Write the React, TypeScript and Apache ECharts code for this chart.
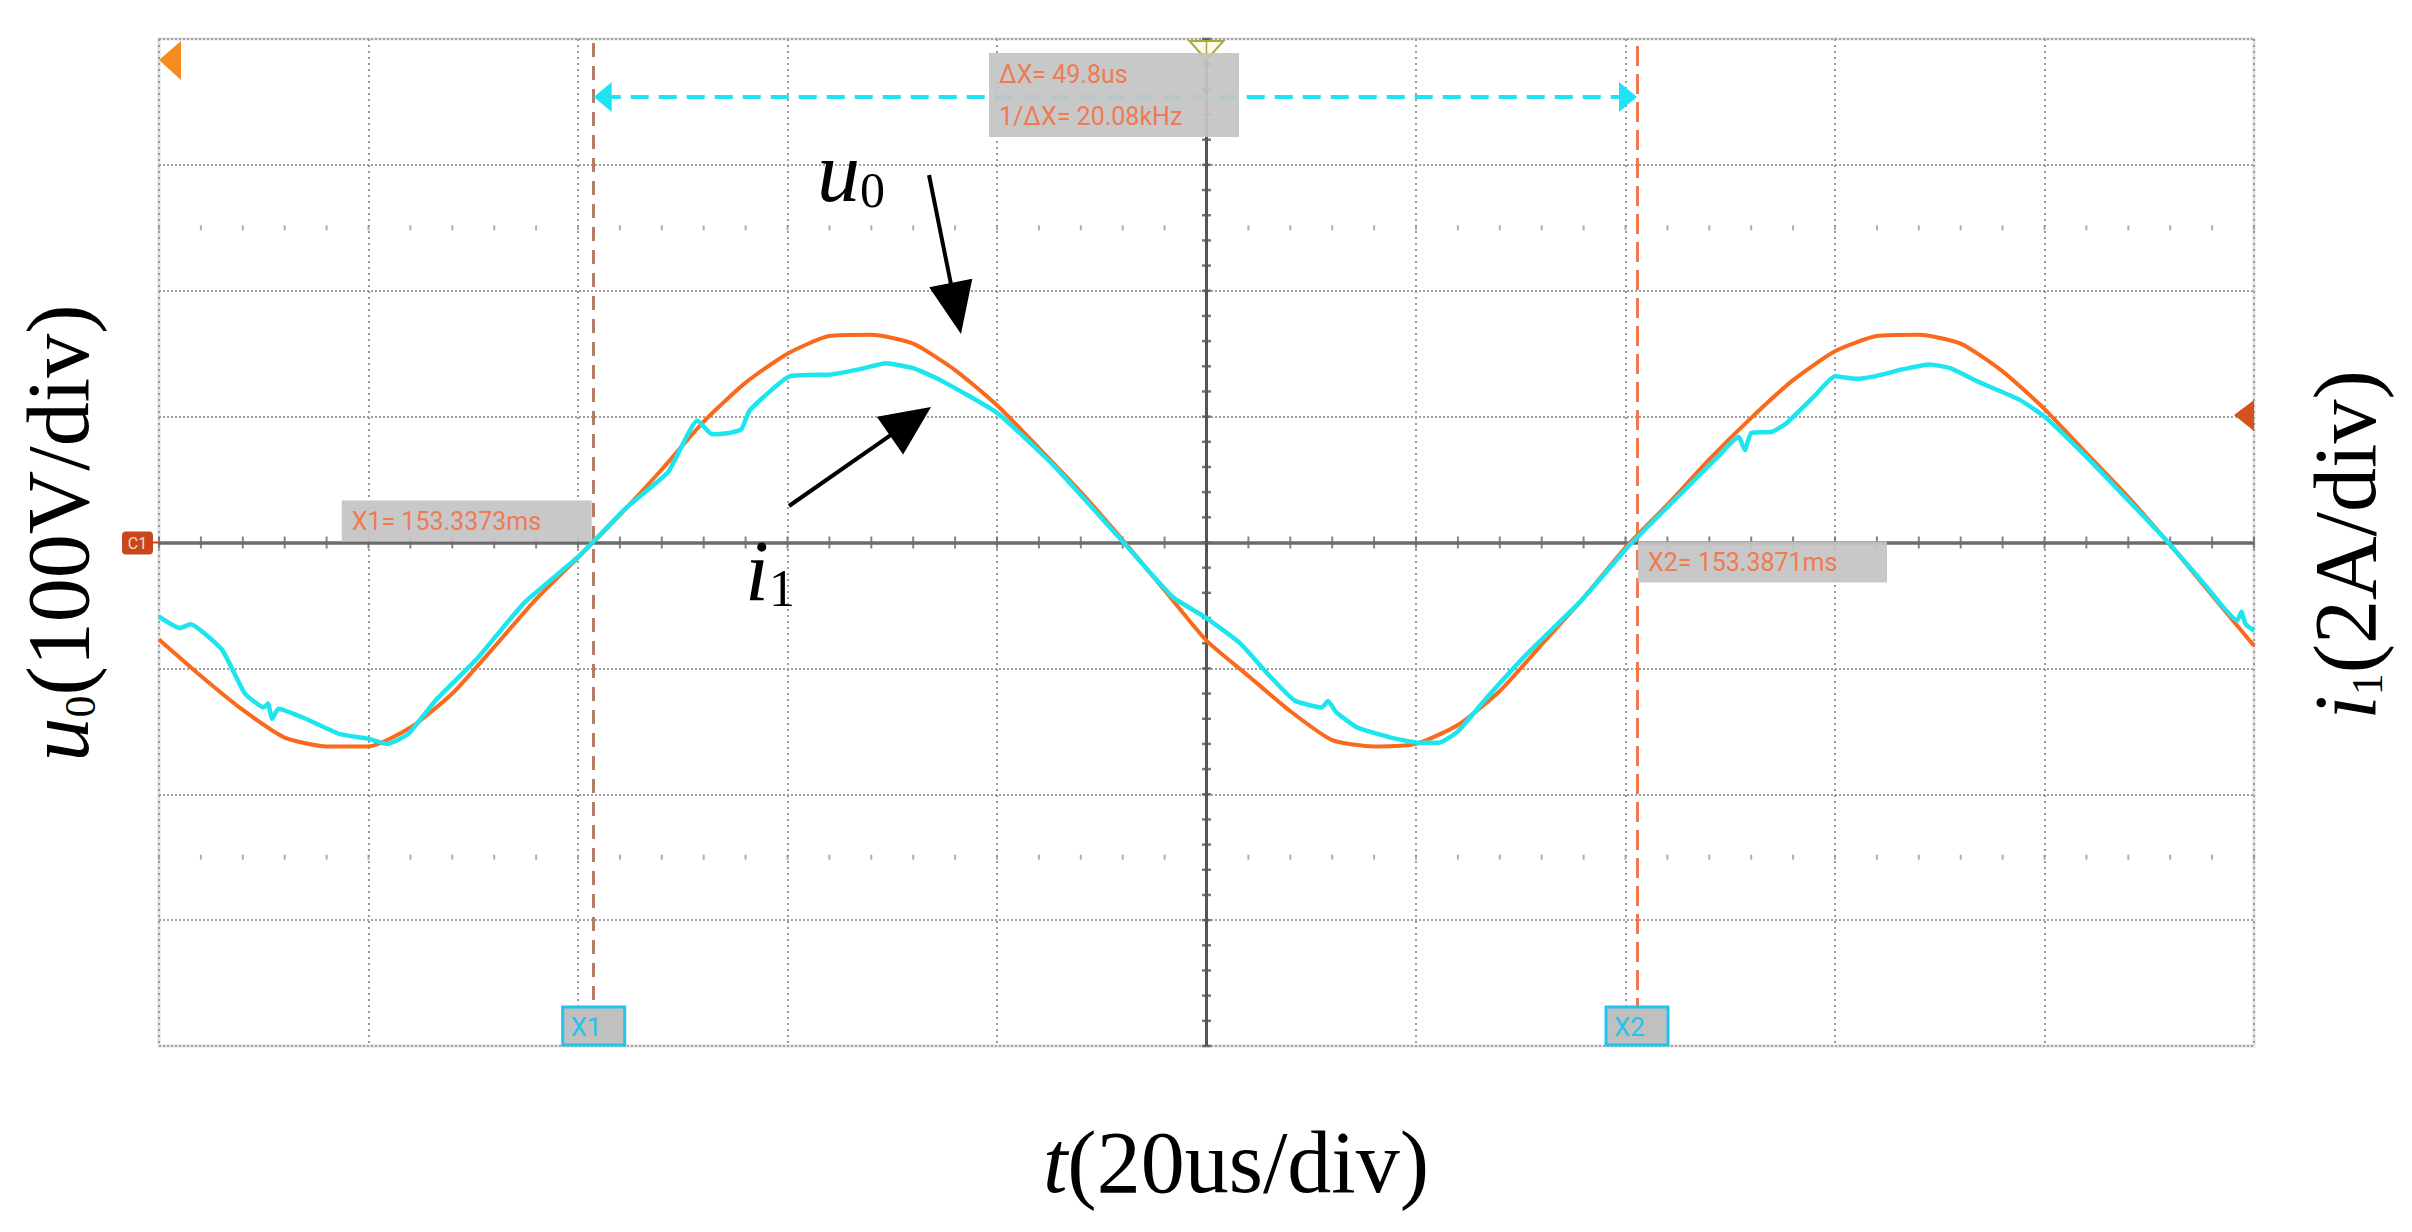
import React, { useEffect, useRef } from "react";
import * as echarts from "echarts";

// ---------------- data (time in µs, 10 µs per division as the cursor readout implies) ----------------
const timeUs = [
  -50, -48, -46, -44, -42, -40, -38, -36, -34, -32, -30, -28, -26, -24, -22, -20, -18, -16, -14, -12, -10,
  -8, -6, -4, -2, 0, 2, 4, 6, 8, 10, 12, 14, 16, 18, 20, 22, 24, 26, 28, 30, 32, 34, 36, 38, 40, 42, 44, 46, 48, 50,
];
// u0, volts (100 V/div)
const u0Volts = [
  -77, -106, -133, -155, -162, -162, -147, -120, -83, -45, -12, 22, 58, 96, 127, 150, 164, 165, 158, 137, 109,
  75, 40, 2, -38, -78, -106, -134, -157, -162, -160, -145, -118, -81, -44, -4, 30, 66, 99, 129, 152, 164, 165, 158,
  136, 106, 71, 36, -2, -42, -82,
];
// i1, amperes (2 A/div), sampled on its own time points to keep the visible ripples
const i1TimeUs = [
  -50, -49, -48.5, -47, -45.9, -45, -44.8, -44.6, -44.3, -43, -41.4, -40, -39.1, -38.1, -36.8, -34.8, -32.6, -30,
  -27.7, -25.7, -24.3, -23.6, -22.8, -22.2, -21.8, -19.9, -17.9, -16.6, -15.3, -14, -12.7, -10, -7.4, -4.2, -1.6,
  0, 1.6, 2.9, 4.2, 5.5, 5.8, 6.2, 7.2, 8.8, 10.1, 11.1, 12, 13.4, 15.3, 17.9, 20.2, 22.5, 24.4, 25.4, 25.7, 26,
  27, 27.7, 29, 30, 31, 31.9, 33.2, 34.5, 35.5, 36.8, 38.8, 40, 42, 44, 45.8, 47.6, 49.2, 49.4, 49.6, 50,
];
const i1Amps = [
  -1.18, -1.36, -1.3, -1.7, -2.4, -2.62, -2.56, -2.8, -2.64, -2.8, -3.04, -3.12, -3.2, -3.04, -2.51, -1.84, -0.97,
  -0.23, 0.55, 1.12, 1.94, 1.72, 1.74, 1.8, 2.1, 2.64, 2.67, 2.75, 2.85, 2.77, 2.58, 2.06, 1.26, 0.09, -0.87,
  -1.2, -1.6, -2.08, -2.51, -2.62, -2.52, -2.7, -2.94, -3.1, -3.18, -3.18, -3.0, -2.46, -1.77, -0.92, -0.04, 0.73,
  1.36, 1.68, 1.47, 1.74, 1.76, 1.9, 2.32, 2.64, 2.6, 2.64, 2.75, 2.83, 2.77, 2.56, 2.27, 2.0, 1.36, 0.67, 0.04,
  -0.65, -1.24, -1.1, -1.3, -1.4,
];

// cursor readouts
const X1_MS = 153.3373;
const X2_MS = 153.3871;
const DELTA_US = 49.8;
const FREQ_KHZ = 20.08;
const cursorX1Us = -29.25;
const cursorX2Us = cursorX1Us + DELTA_US;
const deltaArrowV = 354;

// axes ranges
const T_MIN = -50, T_MAX = 50, T_DIV = 10;
const V_MIN = -400, V_MAX = 400, V_DIV = 100;
const A_MIN = -8, A_MAX = 8, A_DIV = 2;

// ---------------- layout ----------------
const W = 2412, H = 1232;
const G = { left: 159, top: 39, width: 2095, height: 1007 };
const xPx = (t: number) => G.left + ((t - T_MIN) / (T_MAX - T_MIN)) * G.width;
const yPx = (v: number) => G.top + ((V_MAX - v) / (V_MAX - V_MIN)) * G.height;

const SERIF = "Liberation Serif, Times New Roman, serif";
const SANS = "Roboto, Liberation Sans, sans-serif";
const LABEL_ORANGE = "#EE7B52";
const LABEL_GRAY = "#C4C4C4";
const CURSOR_CYAN = "#22C3EF";

function rich(size: number, sub: number) {
  const k = 0.3375;
  const ls = size - 2 * k * (size - sub);
  return {
    it: { fontFamily: SERIF, fontStyle: "italic", fontSize: size, lineHeight: size, verticalAlign: "bottom", fill: "#000" },
    rm: { fontFamily: SERIF, fontSize: size, lineHeight: size, verticalAlign: "bottom", fill: "#000" },
    sub: { fontFamily: SERIF, fontSize: sub, lineHeight: ls, verticalAlign: "bottom", fill: "#000" },
  };
}

function arrow(x1: number, y1: number, x2: number, y2: number, len: number, w: number) {
  const dx = x2 - x1, dy = y2 - y1;
  const L = Math.hypot(dx, dy);
  const ux = dx / L, uy = dy / L;
  const bx = x2 - ux * len, by = y2 - uy * len;
  const px = -uy, py = ux;
  return [
    { type: "line", z: 100, shape: { x1, y1, x2: bx + ux * 3, y2: by + uy * 3 }, style: { stroke: "#000", lineWidth: 4 } },
    {
      type: "polygon",
      z: 100,
      shape: { points: [[x2, y2], [bx + (px * w) / 2, by + (py * w) / 2], [bx - (px * w) / 2, by - (py * w) / 2]] },
      style: { fill: "#000" },
    },
  ];
}

function label(x: number, y: number, w: number, h: number, lines: string[], lineGap: number) {
  const els: any[] = [
    { type: "rect", z: 100, shape: { x, y, width: w, height: h }, style: { fill: LABEL_GRAY, opacity: 0.93 } },
  ];
  const first = y + h / 2 - ((lines.length - 1) * lineGap) / 2;
  lines.forEach((s, i) => {
    els.push({
      type: "text",
      z: 101,
      x: x + 10,
      y: first + i * lineGap,
      style: { text: s, fill: LABEL_ORANGE, fontFamily: SANS, fontSize: 25, align: "left", verticalAlign: "middle", textAlign: "left", textVerticalAlign: "middle" },
    });
  });
  return els;
}

function cursorTag(cx: number, name: string) {
  return [
    { type: "rect", z: 100, shape: { x: cx - 31, y: 1007, width: 62, height: 38 }, style: { fill: "#C0C0C0", stroke: CURSOR_CYAN, lineWidth: 3 } },
    {
      type: "text", z: 101, x: cx - 23, y: 1027,
      style: { text: name, fill: CURSOR_CYAN, fontFamily: SANS, fontSize: 26, align: "left", verticalAlign: "middle", textAlign: "left", textVerticalAlign: "middle" },
    },
  ];
}

function buildOption() {
  const hTicks: number[][] = [];
  for (let t = T_MIN; t <= T_MAX; t += 2) hTicks.push([t, 0]);
  const vTicks: number[][] = [];
  for (let v = V_MIN; v <= V_MAX; v += 20) vTicks.push([0, v]);
  const dotRows: number[][] = [];
  for (let t = T_MIN; t <= T_MAX; t += 2) {
    dotRows.push([t, 2.5 * V_DIV]);
    dotRows.push([t, -2.5 * V_DIV]);
  }

  const halfArrowUs = (9 / G.width) * (T_MAX - T_MIN);
  const x1p = xPx(cursorX1Us);
  const x2p = xPx(cursorX2Us);
  const cx = xPx(0);
  const cy = yPx(0);

  const graphics: any[] = [
    // trigger marker
    { type: "polygon", z: 100, shape: { points: [[cx - 17, 41], [cx + 17, 41], [cx, 60]] }, style: { fill: "#fbfbe8", stroke: "#A9A93C", lineWidth: 2 } },
    { type: "line", z: 100, shape: { x1: cx, y1: 42, x2: cx, y2: 58 }, style: { stroke: "#A9A93C", lineWidth: 1.5 } },
    // channel markers
    { type: "polygon", z: 100, shape: { points: [[G.left, 60], [G.left + 22, 41], [G.left + 22, 80]] }, style: { fill: "#F68B1F" } },
    { type: "polygon", z: 100, shape: { points: [[G.left + G.width - 20, 415], [G.left + G.width, 400], [G.left + G.width, 431]] }, style: { fill: "#D4521C" } },
    { type: "rect", z: 100, shape: { x: 122, y: cy - 11, width: 31, height: 23, r: 4 }, style: { fill: "#C8471B" } },
    { type: "line", z: 100, shape: { x1: 153, y1: cy, x2: G.left, y2: cy }, style: { stroke: "#C8471B", lineWidth: 2 } },
    {
      type: "text", z: 101, x: 137.5, y: cy + 0.5,
      style: { text: "C1", fill: "#F6D8CC", fontFamily: SANS, fontSize: 16, align: "center", verticalAlign: "middle", textAlign: "center", textVerticalAlign: "middle" },
    },
    // readouts
    ...label(989, 53, 250, 84, [`ΔX= ${DELTA_US}us`, `1/ΔX= ${FREQ_KHZ.toFixed(2)}kHz`], 42),
    ...label(x1p - 252, cy - 42, 250, 41, [`X1= ${X1_MS.toFixed(4)}ms`], 0),
    ...label(x2p + 1, cy - 1, 249, 41, [`X2= ${X2_MS.toFixed(4)}ms`], 0),
    ...cursorTag(x1p, "X1"),
    ...cursorTag(x2p, "X2"),
    // annotations
    ...arrow(929, 175, 961, 334, 52, 44),
    ...arrow(789, 506, 931, 407, 50, 46),
    { type: "text", z: 101, x: 817, y: 172, style: { text: "{it|u}{sub|0}", rich: rich(86, 50), align: "left", verticalAlign: "middle", textAlign: "left", textVerticalAlign: "middle" } },
    { type: "text", z: 101, x: 745, y: 571, style: { text: "{it|i}{sub|1}", rich: rich(86, 52), align: "left", verticalAlign: "middle", textAlign: "left", textVerticalAlign: "middle" } },
    // axis titles
    {
      type: "text", z: 101, x: 58, y: 533, rotation: Math.PI / 2,
      style: { text: "{it|u}{sub|0}{rm|(100V/div)}", rich: rich(88, 44), align: "center", verticalAlign: "middle", textAlign: "center", textVerticalAlign: "middle" },
    },
    {
      type: "text", z: 101, x: 2345, y: 545, rotation: Math.PI / 2,
      style: { text: "{it|i}{sub|1}{rm|(2A/div)}", rich: rich(88, 44), align: "center", verticalAlign: "middle", textAlign: "center", textVerticalAlign: "middle" },
    },
    {
      type: "text", z: 101, x: 1236, y: 1162,
      style: { text: "{it|t}{rm|(20us/div)}", rich: rich(88, 44), align: "center", verticalAlign: "middle", textAlign: "center", textVerticalAlign: "middle" },
    },
  ];

  return {
    animation: false,
    backgroundColor: "#ffffff",
    grid: { ...G, show: true, borderColor: "#e2e2e2", borderWidth: 3, backgroundColor: "#ffffff" },
    xAxis: {
      type: "value", min: T_MIN, max: T_MAX, interval: T_DIV,
      axisLine: { show: false }, axisTick: { show: false }, axisLabel: { show: false },
      splitLine: { show: true, lineStyle: { color: "#9a9a9a", width: 2, type: [2, 4] } },
    },
    yAxis: [
      {
        type: "value", min: V_MIN, max: V_MAX, interval: V_DIV,
        axisLine: { show: false }, axisTick: { show: false }, axisLabel: { show: false },
        splitLine: { show: true, lineStyle: { color: "#a0a0a0", width: 2, type: [2, 2] } },
      },
      { type: "value", min: A_MIN, max: A_MAX, interval: A_DIV, show: false, splitLine: { show: false } },
    ],
    series: [
      { type: "scatter", name: "dots", silent: true, data: dotRows, symbol: "rect", symbolSize: [2, 5], itemStyle: { color: "#999" }, z: 1 },
      {
        type: "line", name: "axes", data: [], silent: true, z: 2,
        markLine: {
          silent: true, symbol: ["none", "none"], label: { show: false }, animation: false,
          data: [
            { yAxis: 0, lineStyle: { color: "#6b6b6b", width: 3.5, type: "solid" } },
            { xAxis: 0, lineStyle: { color: "#555", width: 3, type: "solid" } },
            { xAxis: cursorX1Us, lineStyle: { color: "#B67C69", width: 3, type: [14, 9] } },
            { xAxis: cursorX2Us, lineStyle: { color: "#F07A50", width: 3, type: [20, 8] } },
          ],
        },
      },
      { type: "scatter", name: "hticks", silent: true, data: hTicks, symbol: "rect", symbolSize: [2, 12], itemStyle: { color: "#666" }, z: 3 },
      { type: "scatter", name: "vticks", silent: true, data: vTicks, symbol: "rect", symbolSize: [9, 2.5], itemStyle: { color: "#555" }, z: 3 },
      {
        type: "line", name: "u0", data: timeUs.map((t, i) => [t, u0Volts[i]]), showSymbol: false, smooth: 0.2,
        lineStyle: { color: "#F96A1C", width: 4 }, itemStyle: { color: "#F96A1C" }, z: 5,
      },
      {
        type: "line", name: "i1", yAxisIndex: 1, data: i1TimeUs.map((t, i) => [t, i1Amps[i]]), showSymbol: false, smooth: 0.15,
        lineStyle: { color: "#1DE5EE", width: 4.5 }, itemStyle: { color: "#1DE5EE" }, z: 6,
      },
      {
        type: "line", name: "dx", data: [], silent: true, z: 7,
        markLine: {
          silent: true, symbol: ["triangle", "triangle"], symbolSize: [30, 18], label: { show: false }, animation: false,
          lineStyle: { color: "#1FE3F3", width: 4, type: [18, 10] },
          itemStyle: { color: "#1FE3F3" },
          data: [[{ coord: [cursorX1Us + halfArrowUs, deltaArrowV] }, { coord: [cursorX2Us - halfArrowUs, deltaArrowV] }]],
        },
      },
    ],
    graphic: { elements: graphics },
  };
}

export default function App() {
  const ref = useRef<HTMLDivElement>(null);
  useEffect(() => {
    if (!ref.current) return;
    const chart = echarts.init(ref.current, null, { renderer: "svg" });
    chart.setOption(buildOption() as any);
    return () => chart.dispose();
  }, []);
  return <div ref={ref} style={{ position: "absolute", left: 0, top: 0, width: W, height: H, background: "#fff" }} />;
}
